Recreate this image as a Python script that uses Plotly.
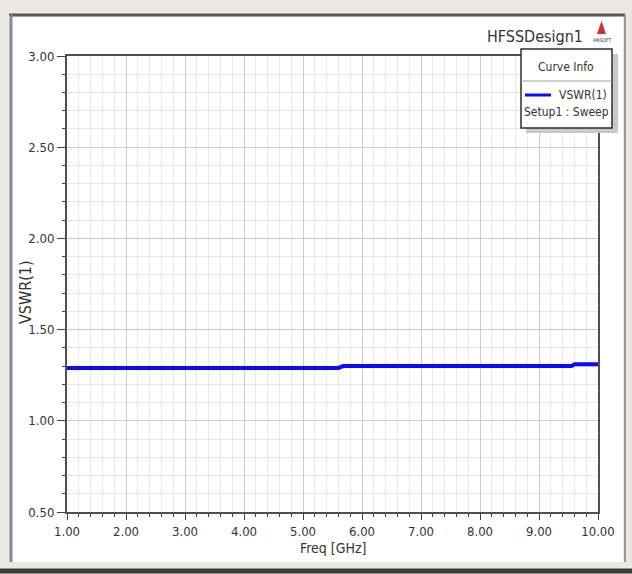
import plotly.graph_objects as go

# ---- data ----
freq_ghz = [1.00, 5.60, 5.68, 9.55, 9.60, 10.00]
vswr = [1.29, 1.29, 1.30, 1.30, 1.31, 1.31]
x_tick_vals = [1, 2, 3, 4, 5, 6, 7, 8, 9, 10]
x_tick_text = ["1.00", "2.00", "3.00", "4.00", "5.00", "6.00", "7.00", "8.00", "9.00", "10.00"]
y_tick_vals = [0.5, 1.0, 1.5, 2.0, 2.5, 3.0]
y_tick_text = ["0.50", "1.00", "1.50", "2.00", "2.50", "3.00"]
series_name = "VSWR(1)"
sweep_name = "Setup1 : Sweep"

W, H = 632, 574
PL, PR, PT, PB = 67, 598, 56, 512  # plot area in pixels


def px(x):
    return (x - PL) / (PR - PL)


def py(y):
    return (PB - y) / (PB - PT)


FONT = "Liberation Sans Narrow, Arial Narrow, DejaVu Sans Condensed, Liberation Sans, Arial"
TXT = "#333333"

fig = go.Figure()
fig.add_trace(go.Scatter(x=freq_ghz, y=vswr, mode="lines", name=series_name,
                         line=dict(color="#0a0aff", width=4), showlegend=False))

fig.update_layout(
    width=W, height=H,
    margin=dict(l=PL, r=W - PR, t=PT, b=H - PB, pad=0),
    paper_bgcolor="#e9e8e2",
    plot_bgcolor="white",
    font=dict(family=FONT, color=TXT, size=13),
    showlegend=False,
    xaxis=dict(range=[1, 10], tickvals=x_tick_vals, ticktext=x_tick_text,
               showline=True, linecolor="#505050", linewidth=2, mirror=True,
               ticks="outside", ticklen=6, tickcolor="#404040",
               showgrid=True, gridcolor="#cdcdcd", gridwidth=1, zeroline=False,
               tickfont=dict(size=13, color=TXT, family=FONT),
               minor=dict(dtick=0.2, showgrid=True, gridcolor="#e8e8e8",
                          ticks="outside", ticklen=3, tickcolor="#404040")),
    yaxis=dict(range=[0.5, 3.0], tickvals=y_tick_vals, ticktext=y_tick_text,
               showline=True, linecolor="#505050", linewidth=2, mirror=True,
               ticks="outside", ticklen=8, tickcolor="#404040",
               showgrid=True, gridcolor="#cdcdcd", gridwidth=1, zeroline=False,
               tickfont=dict(size=13, color=TXT, family=FONT),
               minor=dict(dtick=0.1, showgrid=True, gridcolor="#e8e8e8",
                          ticks="outside", ticklen=3, tickcolor="#404040")),
)

shapes = []
# inner white panel
shapes.append(dict(type="rect", xref="paper", yref="paper", layer="below",
                   x0=px(12), x1=px(623), y0=py(17), y1=py(562),
                   fillcolor="white", line=dict(width=0)))
# frame lines
shapes.append(dict(type="line", xref="paper", yref="paper", layer="below",
                   x0=px(9), x1=px(625), y0=py(15), y1=py(15),
                   line=dict(color="#585858", width=3)))
shapes.append(dict(type="line", xref="paper", yref="paper", layer="below",
                   x0=px(11), x1=px(11), y0=py(15), y1=py(562),
                   line=dict(color="#8a8a8a", width=3)))
shapes.append(dict(type="line", xref="paper", yref="paper", layer="below",
                   x0=px(625), x1=px(625), y0=py(15), y1=py(562),
                   line=dict(color="#9a9a9a", width=2)))
shapes.append(dict(type="line", xref="paper", yref="paper", layer="below",
                   x0=px(0), x1=px(632), y0=py(571), y1=py(571),
                   line=dict(color="#3c3c3c", width=5)))
# legend box shadow + box
shapes.append(dict(type="rect", xref="paper", yref="paper",
                   x0=px(526), x1=px(618), y0=py(54), y1=py(133),
                   fillcolor="#c9c9c9", line=dict(width=0)))
shapes.append(dict(type="rect", xref="paper", yref="paper",
                   x0=px(521), x1=px(612), y0=py(49), y1=py(128),
                   fillcolor="white", line=dict(color="#2e2e2e", width=1.5)))
shapes.append(dict(type="line", xref="paper", yref="paper",
                   x0=px(521), x1=px(612), y0=py(81), y1=py(81),
                   line=dict(color="#a0a0a0", width=1)))
shapes.append(dict(type="line", xref="paper", yref="paper",
                   x0=px(525), x1=px(551), y0=py(95), y1=py(95),
                   line=dict(color="#0a0aff", width=3)))
# ANSOFT logo triangle
shapes.append(dict(type="path", xref="paper", yref="paper",
                   path="M %f,%f L %f,%f L %f,%f Z" % (px(597), py(34), px(601.5), py(21), px(606), py(34)),
                   fillcolor="#d03030", line=dict(width=0)))
fig.update_layout(shapes=shapes)

ann = []


def text(t, x, y, size, xanchor="center", angle=0, color=TXT):
    ann.append(dict(text=t, x=px(x), y=py(y), xref="paper", yref="paper",
                    showarrow=False, xanchor=xanchor, yanchor="middle",
                    textangle=angle, font=dict(size=size, color=color, family=FONT)))


text("HFSSDesign1", 535, 37, 16)
text("ANSOFT", 602, 40, 5)
text("Curve Info", 566, 67, 12)
text(series_name, 609, 95, 12, xanchor="right")
text(sweep_name, 566, 112, 12)
text("VSWR(1)", 25, 292, 16, angle=-90)
text("Freq [GHz]", 333, 548, 14)
fig.update_layout(annotations=ann)

fig.write_html("out.html", config={"displayModeBar": False},
               post_script="document.body.style.margin='0';document.body.style.overflow='hidden';")
